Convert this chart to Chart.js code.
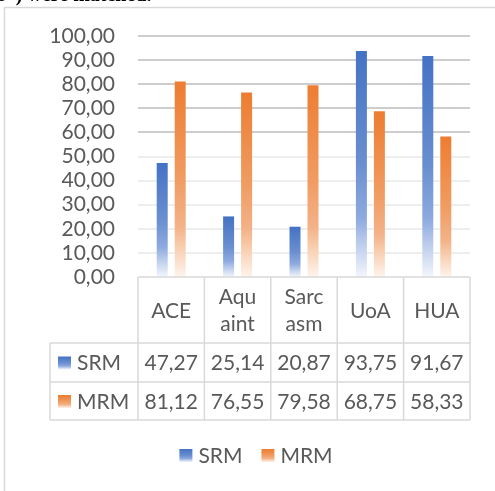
<!DOCTYPE html>
<html>
<head>
<meta charset="utf-8">
<script src="https://cdn.jsdelivr.net/npm/chart.js@4/dist/chart.umd.min.js"></script>
<style>
  html, body { margin: 0; padding: 0; background: #fff; overflow: hidden; }
  #wrap { position: relative; width: 495px; height: 491px; }
  #cap { position: absolute; left: -2px; top: -17px; font: bold 20px "Liberation Serif", serif; color: #000; white-space: nowrap; z-index: 2; line-height: 23px; }
  canvas { position: absolute; left: 0; top: 0; }
</style>
</head>
<body>
<div id="wrap">
  <div id="cap">s”) were matched.</div>
  <canvas id="c" width="495" height="491"></canvas>
</div>
<script>
// ---- data ----
const categories = ['ACE', 'Aquaint', 'Sarcasm', 'UoA', 'HUA'];
const categoryLabels = [['ACE'], ['Aqu', 'aint'], ['Sarc', 'asm'], ['UoA'], ['HUA']];
const seriesNames = ['SRM', 'MRM'];
const srmValues = [47.27, 25.14, 20.87, 93.75, 91.67];
const mrmValues = [81.12, 76.55, 79.58, 68.75, 58.33];
const yTicks = [0, 10, 20, 30, 40, 50, 60, 70, 80, 90, 100];

// ---- styles ----
const FONT = '21px Lato, "Liberation Sans", sans-serif';
const TEXT = '#595959';
const LINE = '#d9d9d9';
const stopsBlue = [[0, '#4472C4'], [0.5, '#6a8fd0'], [0.74, '#8eaadf'], [0.83, '#b3c6e9'], [1, '#f3f6fc']];
const stopsOrange = [[0, '#ED7D31'], [0.5, '#f09c62'], [0.74, '#f3b288'], [0.83, '#f7caa9'], [1, '#fef4ed']];
const fmt = v => v.toFixed(2).replace('.', ',');

function grad(c2d, y0, y1, stops) {
  const g = c2d.createLinearGradient(0, y0, 0, y1);
  stops.forEach(s => g.addColorStop(s[0], s[1]));
  return g;
}
function barFill(stops) {
  return (ctx) => {
    const chart = ctx.chart;
    if (ctx.type !== 'data' || !chart.chartArea) return stops[0][1];
    const y = chart.scales.y;
    const top = y.getPixelForValue(ctx.raw);
    const bot = y.getPixelForValue(0);
    return grad(chart.ctx, top, bot, stops);
  };
}

const tablePlugin = {
  id: 'dataTable',
  beforeDraw(chart) {
    const c = chart.ctx;
    c.save();
    c.strokeStyle = LINE;
    c.lineWidth = 1.5;
    c.beginPath();
    c.moveTo(4.5, 491); c.lineTo(4.5, 7.5); c.lineTo(495, 7.5);
    c.stroke();
    c.restore();
  },
  afterDraw(chart) {
    const c = chart.ctx;
    const area = chart.chartArea;
    const n = categories.length;
    const w = (area.right - area.left) / n;
    const y0 = chart.scales.y.getPixelForValue(0);
    const rows = [y0, y0 + 66, y0 + 105, y0 + 143];
    const labelLeft = 50;
    c.save();
    c.strokeStyle = LINE;
    c.lineWidth = 1.5;
    c.beginPath();
    c.moveTo(area.left, rows[0]); c.lineTo(area.right, rows[0]);
    for (let r = 1; r < rows.length; r++) { c.moveTo(labelLeft, rows[r]); c.lineTo(area.right, rows[r]); }
    c.moveTo(labelLeft, rows[1]); c.lineTo(labelLeft, rows[3]);
    for (let i = 0; i <= n; i++) {
      const x = area.left + i * w;
      c.moveTo(x, rows[0]); c.lineTo(x, rows[3]);
    }
    c.stroke();

    c.font = FONT;
    c.fillStyle = TEXT;
    c.textAlign = 'center';
    c.textBaseline = 'middle';
    const hc = (rows[0] + rows[1]) / 2;
    categoryLabels.forEach((lines, i) => {
      const cx = area.left + (i + 0.5) * w;
      const lh = 27;
      lines.forEach((ln, k) => {
        c.fillText(ln, cx, hc + 1 + (k - (lines.length - 1) / 2) * lh);
      });
    });
    const series = [srmValues, mrmValues];
    const stops = [stopsBlue, stopsOrange];
    series.forEach((vals, s) => {
      const cy = (rows[s + 1] + rows[s + 2]) / 2 + 1;
      vals.forEach((v, i) => {
        c.textAlign = 'center';
        c.fillText(fmt(v), area.left + (i + 0.5) * w, cy);
      });
      c.fillStyle = grad(c, cy - 7, cy + 6, stops[s]);
      c.fillRect(58, cy - 7, 13, 13);
      c.fillStyle = TEXT;
      c.textAlign = 'left';
      c.fillText(seriesNames[s], 77, cy);
    });

    // legend
    const ly = 456;
    const box = 13, gapText = 6, gapItem = 19;
    const widths = seriesNames.map(nm => box + gapText + c.measureText(nm).width);
    const total = widths.reduce((a, b) => a + b, 0) + gapItem * (widths.length - 1);
    let x = 256 - total / 2;
    seriesNames.forEach((nm, s) => {
      c.fillStyle = grad(c, ly - 7, ly + 6, stops[s]);
      c.fillRect(x, ly - 7, box, box);
      c.fillStyle = TEXT;
      c.textAlign = 'left';
      c.fillText(nm, x + box + gapText, ly);
      x += widths[s] + gapItem;
    });
    c.restore();
  }
};

new Chart(document.getElementById('c'), {
  type: 'bar',
  data: {
    labels: categories,
    datasets: [
      { label: seriesNames[0], data: srmValues, backgroundColor: barFill(stopsBlue) },
      { label: seriesNames[1], data: mrmValues, backgroundColor: barFill(stopsOrange) }
    ]
  },
  options: {
    responsive: false,
    devicePixelRatio: 1,
    animation: false,
    layout: { padding: { left: 0, top: 36, right: 25, bottom: 214 } },
    datasets: { bar: { categoryPercentage: 0.542, barPercentage: 0.611 } },
    plugins: { legend: { display: false }, tooltip: { enabled: false } },
    scales: {
      x: { display: false },
      y: {
        min: 0, max: 100,
        afterBuildTicks: (sc) => { sc.ticks = yTicks.map(v => ({ value: v })); },
        afterFit: (sc) => { sc.width = 138; },
        border: { display: false },
        grid: {
          drawTicks: false,
          lineWidth: (ctx) => ctx.tick && ctx.tick.value === 0 ? 0 : 2,
          color: (ctx) => ctx.tick && ctx.tick.value >= 60 ? '#cdcdcd' : '#eeeeee'
        },
        ticks: {
          autoSkip: false,
          padding: 23,
          color: TEXT,
          font: { family: 'Lato, "Liberation Sans", sans-serif', size: 21 },
          callback: (v) => fmt(v)
        }
      }
    }
  },
  plugins: [tablePlugin]
});
</script>
</body>
</html>
